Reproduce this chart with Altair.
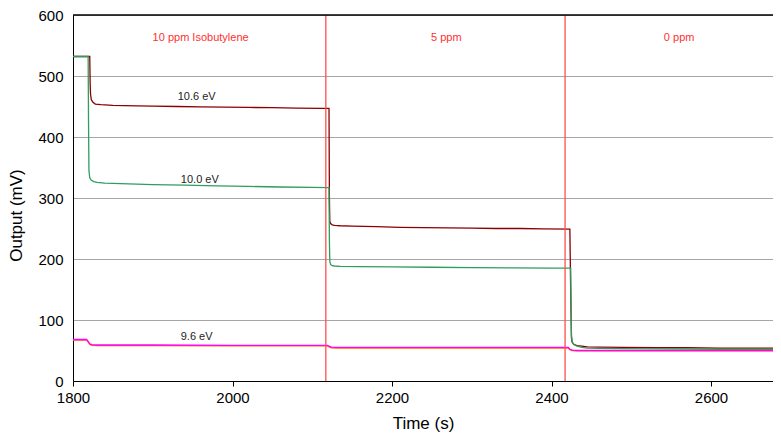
import altair as alt
import pandas as pd

# ---- data ----
T106 = [1800, 1815, 1821, 1821.5, 1822, 1823, 1825, 1828, 1835, 1850, 1880, 1900, 1930, 1960, 1990,
        2020, 2050, 2080, 2110, 2121, 2121.5, 2122, 2123, 2125, 2128, 2135, 2150, 2180, 2210, 2240,
        2270, 2300, 2330, 2360, 2390, 2423, 2424, 2424.5, 2425, 2426, 2428, 2432, 2438, 2445, 2460,
        2490, 2530, 2570, 2610, 2650, 2690]
V106 = [532, 532, 532, 488, 470, 461, 457, 454, 453, 452, 451, 450.5, 450, 449.5, 449,
        448.5, 448, 447.5, 447, 447, 300, 262, 258, 256, 255, 254.5, 254, 253, 252, 251.5,
        251, 250.5, 250, 250, 249.5, 249, 150, 110, 70, 63, 60, 58, 57, 56, 55.5,
        55, 54.5, 54.5, 54, 54, 54]

T100 = [1800, 1815, 1819, 1819.5, 1820, 1821, 1823, 1826, 1830, 1840, 1870, 1900, 1940, 1980, 2020,
        2060, 2100, 2121, 2121.5, 2122, 2123, 2125, 2128, 2135, 2160, 2200, 2250, 2300, 2350, 2400,
        2424, 2424.5, 2425, 2426, 2428, 2432, 2438, 2445, 2460, 2490, 2530, 2570, 2610, 2650, 2690]
V100 = [532, 532, 532, 420, 345, 333, 329, 327, 325.5, 324.5, 323, 322, 321, 320, 319,
        318, 317.5, 317, 230, 196, 191, 189, 188.5, 188, 187.5, 187, 186.5, 186, 185.5, 185,
        185, 120, 75, 64, 60, 57, 55, 54, 53.5, 53, 52.5, 52.5, 52, 52, 52]

T96 = [1800, 1817, 1819, 1821, 1824, 1830, 1900, 2000, 2119, 2121, 2124, 2130, 2200, 2300,
       2421, 2423, 2426, 2432, 2500, 2600, 2690]
V96_MAGENTA = [68, 68, 65, 61, 59.5, 59, 59, 58.5, 58.5, 57, 55.5, 55, 55, 55,
               55, 52, 50.5, 50, 50, 50, 50]
V96_ORANGE = [67, 67, 64, 60, 58.5, 58, 58, 57.5, 57.5, 56, 54.5, 54, 54, 54,
              54, 51.5, 50, 49.5, 49.5, 49.5, 49.5]

EVENT_TIMES = [2117, 2417]
PHASE_LABELS = ["10 ppm Isobutylene", "5 ppm", "0 ppm"]
PHASE_X = [1960, 2268, 2560]
PHASE_Y = [562, 562, 562]

SERIES_LABELS = ["10.6 eV", "10.0 eV", "9.6 eV"]
SERIES_LABEL_X = [1955, 1959, 1955]
SERIES_LABEL_Y = [457, 321, 64]

X_DOMAIN = [1800, 2677.7]
Y_DOMAIN = [0, 600]

FONT = "Liberation Sans, Arial, sans-serif"

xs = alt.Scale(domain=X_DOMAIN, nice=False, zero=False)
ys = alt.Scale(domain=Y_DOMAIN, nice=False)

x_axis = alt.Axis(values=[1800, 2000, 2200, 2400, 2600], title="Time (s)", grid=False,
                  domainColor="black", tickColor="black", tickSize=5, labelFontSize=15,
                  labelColor="black", labelPadding=4, labelFlush=False, titleFontSize=17,
                  titleFontWeight="normal", titleColor="black", titlePadding=10,
                  labelFont=FONT, titleFont=FONT, format="d")
y_axis = alt.Axis(values=[0, 100, 200, 300, 400, 500, 600], title="Output (mV)", grid=True,
                  gridColor="#a6a6a6", gridWidth=1, domainColor="black", ticks=False,
                  labelFontSize=15, labelColor="black", labelPadding=10, labelFlush=False,
                  titleFontSize=17, titleFontWeight="normal", titleColor="black",
                  titlePadding=12, titleY=200, labelFont=FONT, titleFont=FONT)


def X(field="t"):
    return alt.X(f"{field}:Q", scale=xs, axis=x_axis)


def Y(field="v"):
    return alt.Y(f"{field}:Q", scale=ys, axis=y_axis)


def series_layer(times, values, color):
    df = pd.DataFrame({"t": times, "v": values})
    return alt.Chart(df).mark_line(color=color, strokeWidth=1.3, clip=True).encode(x=X(), y=Y())


orange = series_layer(T96, V96_ORANGE, "#ff6a00")
magenta = series_layer(T96, V96_MAGENTA, "#ff00ff")
dark_red = series_layer(T106, V106, "#8b0000")
green = series_layer(T100, V100, "#2e9e5e")

events = alt.Chart(pd.DataFrame({"t": EVENT_TIMES})).mark_rule(color="#ff5050", strokeWidth=1.3).encode(
    x=X())

phase = alt.Chart(pd.DataFrame({"t": PHASE_X, "v": PHASE_Y, "label": PHASE_LABELS})).mark_text(
    color="#ff3030", fontSize=11, font=FONT).encode(x=X(), y=Y(), text="label:N")

slabels = alt.Chart(pd.DataFrame({"t": SERIES_LABEL_X, "v": SERIES_LABEL_Y, "label": SERIES_LABELS})).mark_text(
    color="#222222", fontSize=11, font=FONT, baseline="bottom").encode(x=X(), y=Y(), text="label:N")

top_border = alt.Chart(pd.DataFrame({"v": [600]})).mark_rule(color="black", strokeWidth=1.5).encode(
    y=Y(), x=alt.value(0), x2=alt.value(700))

chart = alt.layer(orange, magenta, dark_red, green, events, phase, slabels, top_border).properties(
    width=700, height=366,
    autosize=alt.AutoSizeParams(type="none"),
    padding={"left": 65, "top": 7, "right": 0, "bottom": 57},
).configure_view(stroke=None)

chart.save("out.html", embed_options={"renderer": "svg", "actions": False})
